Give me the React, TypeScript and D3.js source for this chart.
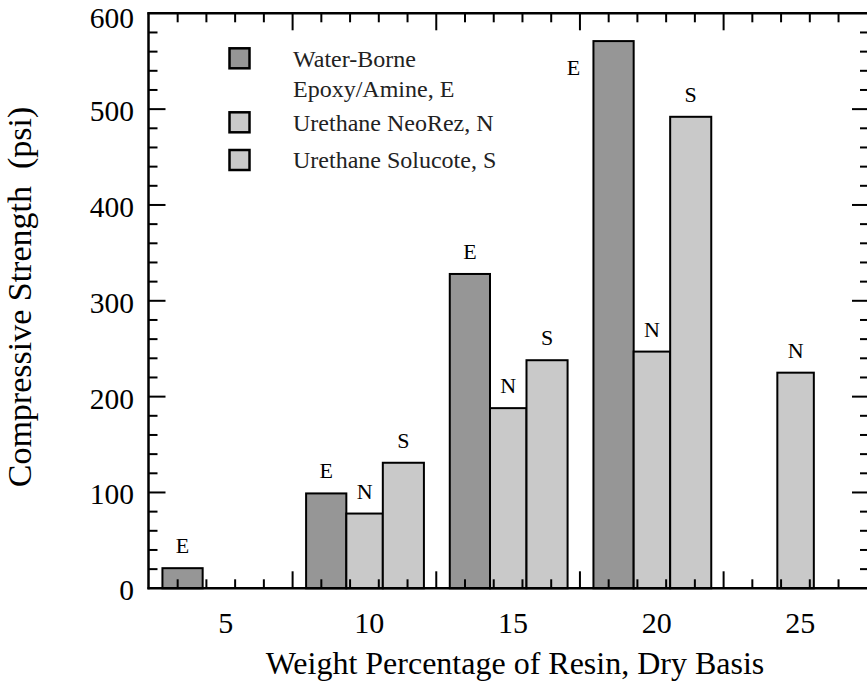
import React, { useEffect, useRef } from 'react'
import * as d3 from 'd3'

// data
const GROUPS = [5, 10, 15, 20, 25]
const SERIES_KEYS = ['E', 'N', 'S']
const E_VALUES: (number | null)[] = [21, 99, 328, 571, null]
const N_VALUES: (number | null)[] = [null, 78, 188, 247, 225]
const S_VALUES: (number | null)[] = [null, 131, 238, 492, null]
const LEGEND_LABELS = [['Water-Borne', 'Epoxy/Amine, E'], ['Urethane NeoRez, N'], ['Urethane Solucote, S']]
const Y_TICKS = [0, 100, 200, 300, 400, 500, 600]
const X_TICKS = [5, 10, 15, 20, 25]

const WIDTH = 867
const HEIGHT = 690
const FONT = '"Liberation Serif", "Times New Roman", serif'

// bar edges relative to group value (x units)
const EDGES: Record<string, [number, number]> = { E: [-2.2, -0.8], N: [-0.8, 0.47], S: [0.47, 1.9] }
const FILLS: Record<string, string> = { E: '#969696', N: '#c9c9c9', S: '#c9c9c9' }

const App: React.FC = () => {
  const ref = useRef<SVGSVGElement>(null)

  useEffect(() => {
    if (!ref.current) return
    const svg = d3.select(ref.current)
    svg.selectAll('*').remove()

    const x = d3.scaleLinear().domain([2.315, 27.39]).range([148.5, 869])
    const y = d3.scaleLinear().domain([0, 600]).range([588.3, 13.3])
    const [x0, x1] = x.range()
    const [yb, yt] = y.range()

    const seriesVals: Record<string, (number | null)[]> = { E: E_VALUES, N: N_VALUES, S: S_VALUES }
    const bars: { key: string; g: number; v: number }[] = []
    SERIES_KEYS.forEach(k => {
      seriesVals[k].forEach((v, i) => {
        if (v != null) bars.push({ key: k, g: GROUPS[i], v })
      })
    })

    const g = svg.append('g')

    g.selectAll('rect.bar')
      .data(bars)
      .enter()
      .append('rect')
      .attr('x', d => x(d.g + EDGES[d.key][0]))
      .attr('y', d => y(d.v))
      .attr('width', d => x(d.g + EDGES[d.key][1]) - x(d.g + EDGES[d.key][0]))
      .attr('height', d => y(0) - y(d.v))
      .attr('fill', d => FILLS[d.key])
      .attr('stroke', '#000')
      .attr('stroke-width', 2)

    // letters above bars
    bars.forEach(d => {
      const cx = (x(d.g + EDGES[d.key][0]) + x(d.g + EDGES[d.key][1])) / 2
      let lx = cx
      let ly = y(d.v) - 15
      if (y(d.v) < 60) {
        // too close to the top frame: put it to the left
        lx = x(d.g + EDGES[d.key][0]) - 20
        ly = y(d.v) + 34
      }
      g.append('text')
        .attr('x', lx)
        .attr('y', ly)
        .attr('text-anchor', 'middle')
        .attr('font-family', FONT)
        .attr('font-size', 22)
        .attr('fill', '#000')
        .text(d.key)
    })

    // frame
    const axisG = svg.append('g').attr('stroke', '#000').attr('fill', 'none')
    axisG.append('line').attr('x1', x0).attr('x2', x0).attr('y1', yt - 1).attr('y2', yb + 1).attr('stroke-width', 2.5)
    axisG.append('line').attr('x1', x1).attr('x2', x1).attr('y1', yt - 1).attr('y2', yb + 1).attr('stroke-width', 2.5)
    axisG.append('line').attr('x1', x0 - 1).attr('x2', x1).attr('y1', yb).attr('y2', yb).attr('stroke-width', 2.5)
    axisG.append('line').attr('x1', x0 - 1).attr('x2', x1).attr('y1', yt).attr('y2', yt).attr('stroke-width', 2.5)

    // y ticks, every 20, major every 100, pointing inward on both sides
    d3.range(20, 600, 20).forEach(v => {
      const len = v % 100 === 0 ? 17 : 9
      axisG.append('line').attr('x1', x0).attr('x2', x0 + len).attr('y1', y(v)).attr('y2', y(v)).attr('stroke-width', 2)
      axisG.append('line').attr('x1', x1).attr('x2', x1 - len).attr('y1', y(v)).attr('y2', y(v)).attr('stroke-width', 2)
    })

    // x ticks: one per unit, offset from the labels, major every fifth
    d3.range(3, 27).forEach(k => {
      const v = k + 0.33
      const len = (k - 2) % 5 === 0 ? 17 : 9
      axisG.append('line').attr('x1', x(v)).attr('x2', x(v)).attr('y1', yb).attr('y2', yb - len).attr('stroke-width', 2)
      axisG.append('line').attr('x1', x(v)).attr('x2', x(v)).attr('y1', yt).attr('y2', yt + len).attr('stroke-width', 2)
    })

    // tick labels (top one held inside the picture)
    Y_TICKS.forEach(v => {
      svg.append('text')
        .attr('x', 134)
        .attr('y', Math.max(y(v) + 12, 27.5))
        .attr('text-anchor', 'end')
        .attr('font-family', FONT)
        .attr('font-size', 29.5)
        .attr('fill', '#000')
        .text(v)
    })
    X_TICKS.forEach(v => {
      svg.append('text')
        .attr('x', x(v))
        .attr('y', 633)
        .attr('text-anchor', 'middle')
        .attr('font-family', FONT)
        .attr('font-size', 30)
        .attr('fill', '#000')
        .text(v)
    })

    // axis titles
    svg.append('text')
      .attr('x', 515)
      .attr('y', 674)
      .attr('text-anchor', 'middle')
      .attr('font-family', FONT)
      .attr('font-size', 32)
      .attr('fill', '#000')
      .text('Weight Percentage of Resin, Dry Basis')
    svg.append('text')
      .attr('transform', 'translate(31,297) rotate(-90)')
      .attr('text-anchor', 'middle')
      .attr('font-family', FONT)
      .attr('font-size', 34)
      .attr('fill', '#000')
      .text('Compressive Strength\u00a0 (psi)')

    // legend
    const legendBoxY = [48.3, 112.3, 150]
    const legendTextY = [[66.7, 96.7], [131], [168.3]]
    SERIES_KEYS.forEach((k, i) => {
      svg.append('rect')
        .attr('x', 229.5)
        .attr('y', legendBoxY[i])
        .attr('width', 20)
        .attr('height', 20)
        .attr('fill', FILLS[k])
        .attr('stroke', '#000')
        .attr('stroke-width', 2.5)
      LEGEND_LABELS[i].forEach((line, j) => {
        svg.append('text')
          .attr('x', 293)
          .attr('y', legendTextY[i][j])
          .attr('font-family', FONT)
          .attr('font-size', 24)
          .attr('fill', '#222')
          .text(line)
      })
    })
  }, [])

  return (
    <svg
      ref={ref}
      width={WIDTH}
      height={HEIGHT}
      style={{ position: 'absolute', left: 0, top: 0, background: '#fff' }}
    />
  )
}

export default App
